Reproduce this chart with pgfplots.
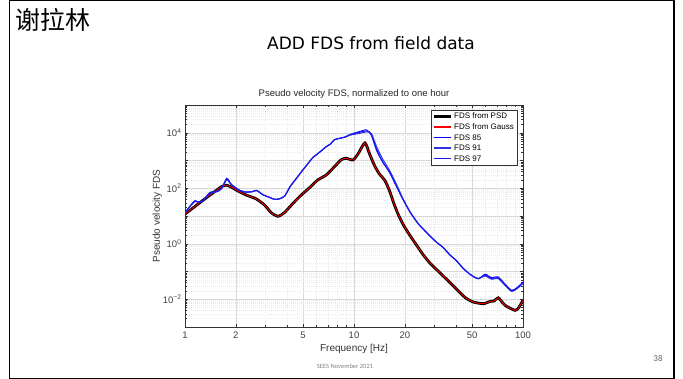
\documentclass[border=0pt]{standalone}
\usepackage{fontspec}
\setmainfont{Liberation Sans}
\newfontfamily\cjk{Noto Sans CJK SC}
\newfontfamily\titlefont{DejaVu Sans}
\newfontfamily\calib{Carlito}
\usepackage{pgfplots}
\usepackage{pgfplotstable}
\pgfplotsset{compat=1.18}
\definecolor{bA}{RGB}{0,0,255}
\definecolor{bB}{RGB}{50,50,225}
\definecolor{bC}{RGB}{25,25,240}

\pgfplotstableread{
f y
1.000 11.7
1.148 22.4
1.327 43.7
1.514 79.4
1.660 117.5
1.766 128.8
1.905 104.7
2.089 75.9
2.317 56.2
2.630 41.7
2.951 25.1
3.236 13.2
3.548 9.77
3.873 13.2
4.345 28.2
4.864 56.2
5.458 104.7
6.109 199.5
6.855 302
7.674 603
8.414 1072
8.995 1202
9.863 1047
10.57 1738
11.61 4266
12.39 1660
13.27 631
14.19 316
15.24 190.5
16.29 75.9
17.10 31.6
18.28 11.2
19.59 4.79
21.43 1.995
23.50 0.871
25.70 0.398
28.18 0.1995
32.28 0.0891
36.98 0.0398
41.40 0.01995
45.71 0.01122
50.82 0.00794
58.21 0.00692
63.83 0.00832
67.61 0.00871
71.45 0.01122
78.34 0.00603
89.74 0.00398
94.41 0.00501
100.0 0.00912
}\psd

\pgfplotstableread{
f y
1.000 13.2
1.072 22.4
1.146 35.5
1.227 30.2
1.312 42.7
1.406 70.8
1.538 75.9
1.648 97.7
1.766 214
1.888 132
2.113 83.2
2.317 72.4
2.512 75.9
2.655 83.2
2.904 57.5
3.162 46.8
3.388 39.8
3.631 41.7
3.890 52.5
4.178 112
4.477 195
4.898 398
5.248 676
5.702 1259
6.295 2042
6.855 3162
7.211 3802
7.674 5623
8.260 6310
8.913 7079
9.462 8318
10.86 10470
11.89 11750
12.68 8913
13.61 2512
14.79 891
16.22 380
17.91 112
19.50 39.8
21.43 14.1
23.99 5.25
26.92 2.512
30.20 1.259
33.73 0.724
36.90 0.398
40.55 0.240
43.65 0.141
47.42 0.0891
50.82 0.0661
54.45 0.0550
59.57 0.0794
62.37 0.0692
65.31 0.0603
71.45 0.0631
78.16 0.0355
85.70 0.0209
92.26 0.0263
100.0 0.0417
}\fdsA

\pgfplotstableread{
f y
1.000 13.0
1.072 22.0
1.146 33.1
1.227 30.5
1.312 42.0
1.406 66.1
1.538 74.0
1.648 96.0
1.766 200
1.888 130
2.113 82.0
2.317 71.5
2.512 75.0
2.655 82.0
2.904 57.0
3.162 46.5
3.388 39.5
3.631 41.5
3.890 52.0
4.178 110
4.477 192
4.898 395
5.248 670
5.702 1250
6.295 2030
6.855 3140
7.211 3780
7.674 5600
8.260 6280
8.913 7050
9.462 8200
10.86 9550
11.89 10720
12.68 9333
13.61 3162
14.79 1122
16.22 447
17.91 132
19.50 42.0
21.43 14.5
23.99 5.35
26.92 2.55
30.20 1.27
33.73 0.730
36.90 0.402
40.55 0.242
43.65 0.142
47.42 0.0900
50.82 0.0668
54.45 0.0560
59.57 0.0692
62.37 0.0603
65.31 0.0525
71.45 0.0550
78.16 0.0316
85.70 0.0191
92.26 0.0240
100.0 0.0372
}\fdsB

\pgfplotstableread{
f y
1.000 13.4
1.072 22.8
1.146 35.0
1.227 30.8
1.312 43.5
1.406 70.0
1.538 76.5
1.648 99.0
1.766 229
1.888 135
2.113 84.0
2.317 73.0
2.512 76.5
2.655 84.0
2.904 58.0
3.162 47.2
3.388 40.2
3.631 42.2
3.890 53.0
4.178 114
4.477 198
4.898 402
5.248 682
5.702 1270
6.295 2060
6.855 3190
7.211 3830
7.674 5660
8.260 6350
8.913 7120
9.462 8710
10.86 11220
11.89 12590
12.68 7943
13.61 2239
14.79 870
16.22 372
17.91 110
19.50 39.0
21.43 13.9
23.99 5.20
26.92 2.49
30.20 1.25
33.73 0.718
36.90 0.395
40.55 0.238
43.65 0.140
47.42 0.0885
50.82 0.0655
54.45 0.0545
59.57 0.0741
62.37 0.0650
65.31 0.0562
71.45 0.0589
78.16 0.0340
85.70 0.0200
92.26 0.0255
100.0 0.0398
}\fdsC

\begin{document}
\begin{tikzpicture}
\path[use as bounding box] (0pt,0pt) rectangle (683pt,379pt);
\draw[line width=1.2pt] (9.6pt,0.6pt) rectangle (674pt,378.4pt);
\node[anchor=north west, inner sep=0pt] at (15pt,371pt) {\cjk\fontsize{25}{25}\selectfont 谢拉林};
\node at (371pt,336pt) {\titlefont\fontsize{17}{17}\selectfont ADD FDS from field data};
\node[text=gray] at (345pt,13pt) {\calib\fontsize{6.5}{7}\selectfont SEES November 2021};
\node[text=black!60] at (658pt,21pt) {\calib\fontsize{9}{9}\selectfont 38};
\begin{axis}[
  at={(185pt,52pt)}, anchor=south west,
  scale only axis, width=338pt, height=222pt,
  xmode=log, ymode=log,
  xmin=1, xmax=100, ymin=1e-3, ymax=1e5,
  xtick={1,2,5,10,20,50,100},
  xticklabels={1,2,5,10,20,50,100},
  minor xtick={3,4,6,7,8,9,30,40,60,70,80,90},
  ytick={1e-3,1e-2,0.1,1,10,100,1000,1e4,1e5},
  yticklabels={,10\textsuperscript{−2},,10\textsuperscript{0},,10\textsuperscript{2},,10\textsuperscript{4},},
  grid=both,
  major grid style={draw=black!15, line width=0.45pt},
  minor grid style={draw=black!8, line width=0.35pt, dash pattern=on 1pt off 1pt},
  tick align=inside,
  major tick length=3pt, minor tick length=1.8pt,
  axis line style={draw=black!80, line width=0.5pt},
  every tick/.style={draw=black!80, line width=0.4pt},
  ticklabel style={font=\fontsize{9.5}{10}\selectfont, text=black!75},
  xticklabel style={yshift=-1.5pt},
  title={Pseudo velocity FDS, normalized to one hour},
  title style={font=\fontsize{9.5}{10}\selectfont, text=black!85, yshift=-3.5pt},
  xlabel={Frequency [Hz]}, ylabel={Pseudo velocity FDS},
  xlabel style={font=\fontsize{10}{11}\selectfont, text=black!80, yshift=1pt},
  ylabel style={font=\fontsize{10}{11}\selectfont, text=black!80, yshift=-6pt},
  legend style={at={(1,1)}, anchor=north east, xshift=-6pt, yshift=-5pt,
    font=\fontsize{8}{9}\selectfont, draw=black!80, line width=0.4pt,
    inner sep=1pt, row sep=-0.6pt, cells={anchor=west}, fill=white},
  legend image code/.code={\draw[#1] (0pt,0.5pt) -- (17pt,0.5pt);},
]
\addplot[black, line width=2.8pt, smooth, tension=0.4, forget plot] table {\psd};
\addplot[red, line width=0.8pt, smooth, tension=0.4, forget plot] table {\psd};
\addplot[bA, line width=1pt, smooth, tension=0.4, forget plot] table {\fdsA};
\addplot[bB, line width=1pt, smooth, tension=0.4, forget plot] table {\fdsB};
\addplot[bC, line width=1pt, smooth, tension=0.4, forget plot] table {\fdsC};
\addlegendimage{draw=black, line width=2.8pt}
\addlegendentry{FDS from PSD}
\addlegendimage{draw=red, line width=1.6pt}
\addlegendentry{FDS from Gauss}
\addlegendimage{draw=bA, line width=1.6pt}
\addlegendentry{FDS 85}
\addlegendimage{draw=bB, line width=1.6pt}
\addlegendentry{FDS 91}
\addlegendimage{draw=bC, line width=1.6pt}
\addlegendentry{FDS 97}
\end{axis}
\end{tikzpicture}
\end{document}
